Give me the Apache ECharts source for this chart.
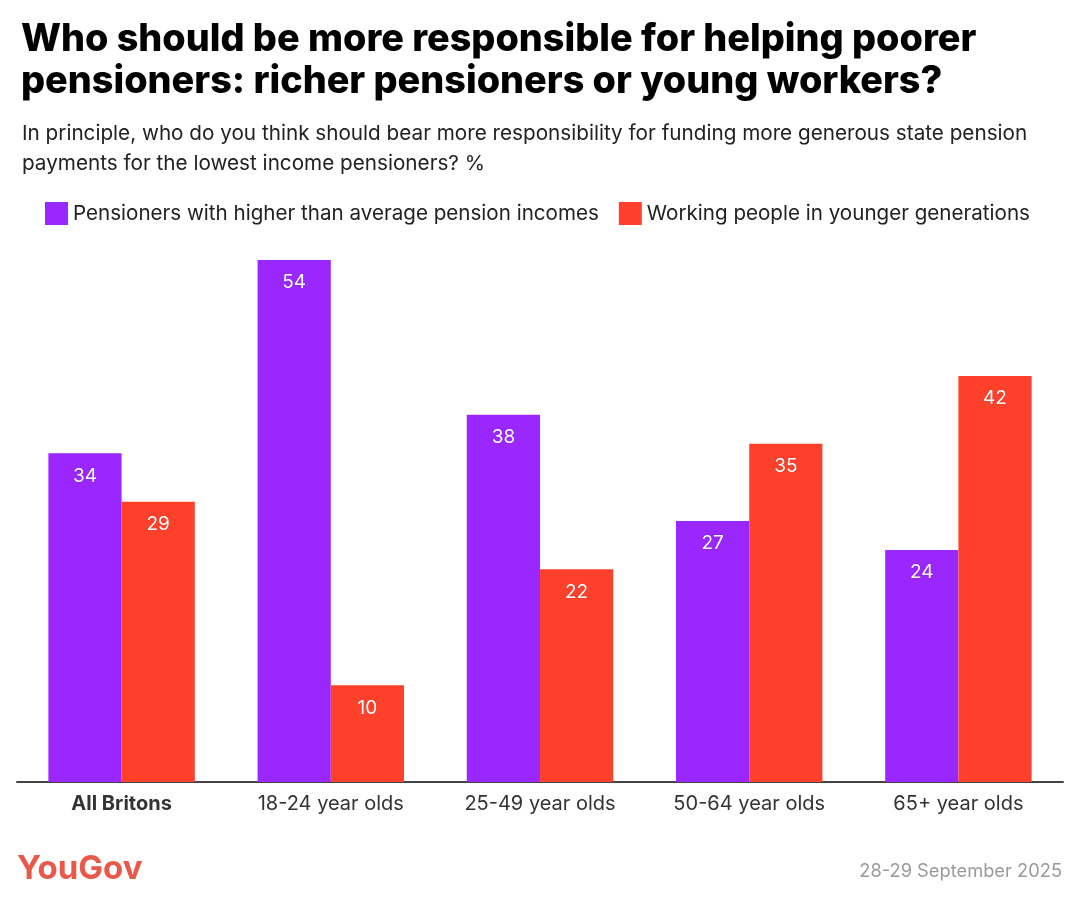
<!DOCTYPE html>
<html><head><meta charset="utf-8">
<script src="https://cdn.jsdelivr.net/npm/echarts@6/dist/echarts.min.js"></script>
<style>html,body{margin:0;padding:0;background:#fff}#c{width:1080px;height:904px}</style>
</head><body><div id="c"></div>
<script>
const categories = ['All Britons', '18-24 year olds', '25-49 year olds', '50-64 year olds', '65+ year olds'];
const seriesNames = ['Pensioners with higher than average pension incomes', 'Working people in younger generations'];
const richerPensioners = [34, 54, 38, 27, 24];
const youngWorkers = [29, 10, 22, 35, 42];

const chart = echarts.init(document.getElementById('c'), null, {renderer: 'canvas'});
const labelCfg = {show: true, position: 'insideTop', distance: 13, color: '#fff', fontSize: 19, fontFamily: 'Inter',
  textBorderColor: 'rgba(0,0,0,0.15)', textBorderWidth: 1};
chart.setOption({
  animation: false,
  backgroundColor: '#fff',
  title: [
    {text: 'Who should be more responsible for helping poorer\npensioners: richer pensioners or young workers?', left: 16, top: 14,
     textStyle: {fontFamily: 'Inter', fontWeight: 800, fontSize: 37.8, lineHeight: 42, color: '#000'}},
    {text: 'In principle, who do you think should bear more responsibility for funding more generous state pension\npayments for the lowest income pensioners? %', left: 17, top: 114,
     textStyle: {fontFamily: 'Inter', fontWeight: 400, fontSize: 20.7, lineHeight: 30, color: '#222'}},
    {text: 'YouGov', left: 12, top: 848,
     textStyle: {fontFamily: 'Inter', fontWeight: 700, fontSize: 33, color: '#e8584b'}},
    {text: '28-29 September 2025', right: 13, top: 858,
     textStyle: {fontFamily: 'Inter', fontWeight: 400, fontSize: 18.3, color: '#9a9a9a'}}
  ],
  legend: {
    left: 40, top: 197, itemWidth: 23, itemHeight: 23, itemGap: 20, icon: 'rect',
    textStyle: {fontFamily: 'Inter', fontSize: 20.6, color: '#222'},
    data: seriesNames
  },
  grid: {left: 17, right: 17, top: 202, bottom: 122, containLabel: false},
  xAxis: {
    type: 'category', data: categories,
    axisLine: {lineStyle: {color: '#444', width: 2}},
    axisTick: {show: false},
    axisLabel: {margin: 12, fontFamily: 'Inter', fontSize: 20, color: '#333',
      formatter: (v, i) => i === 0 ? '{b|' + v + '}' : v,
      rich: {b: {fontFamily: 'Inter', fontWeight: 700, fontSize: 20, color: '#333'}}}
  },
  yAxis: {type: 'value', min: 0, max: 60, show: false, splitLine: {show: false}},
  series: [
    {name: seriesNames[0], type: 'bar', data: richerPensioners, barGap: '0%', barCategoryGap: '30%',
     itemStyle: {color: '#9b27ff'}, label: labelCfg},
    {name: seriesNames[1], type: 'bar', data: youngWorkers,
     itemStyle: {color: '#ff412c'}, label: labelCfg}
  ]
});
</script></body></html>
